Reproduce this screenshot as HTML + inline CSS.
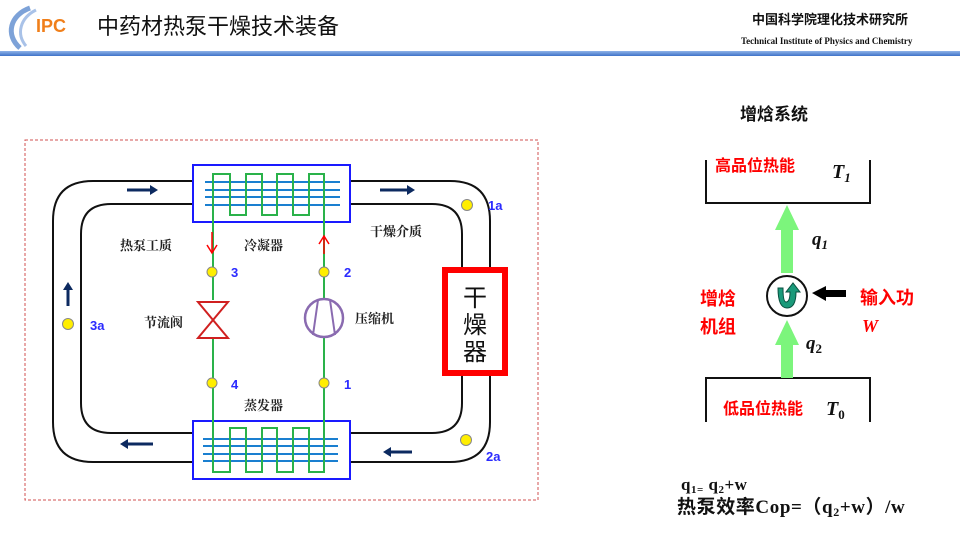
<!DOCTYPE html>
<html><head><meta charset="utf-8"><style>
body{margin:0;width:960px;height:540px;background:#fff;overflow:hidden;font-family:"Liberation Sans","Noto Sans CJK SC",sans-serif}
</style></head><body>
<svg width="960" height="540" viewBox="0 0 960 540" xmlns="http://www.w3.org/2000/svg">
<defs><linearGradient id="lg" x1="0" x2="0" y1="0" y2="1"><stop offset="0" stop-color="#8fb3e8"/><stop offset="1" stop-color="#3f73c8"/></linearGradient></defs>
<path d="M30,8 C10,15 5,35 20,48" stroke="#7da2d8" stroke-width="5" fill="none"/>
<path d="M36,10 C20,18 16,34 26,46" stroke="#a9c2e8" stroke-width="3" fill="none"/>
<text x="36" y="32" font-size="18" font-weight="bold" fill="#f07f1a" font-family="Liberation Sans,sans-serif">IPC</text>
<text x="97" y="34" font-size="22" fill="#111" font-family="Noto Sans CJK SC,sans-serif">中药材热泵干燥技术装备</text>
<text x="752" y="24" font-size="13" font-weight="bold" fill="#111" font-family="Noto Sans CJK SC,sans-serif">中国科学院理化技术研究所</text>
<text x="741" y="44" font-size="9" font-weight="bold" fill="#111" font-family="Liberation Serif,serif">Technical Institute of Physics and Chemistry</text>
<rect x="0" y="51" width="960" height="5" fill="url(#lg)"/>

<rect x="25" y="140" width="513" height="360" fill="none" stroke="#d05050" stroke-width="1" stroke-dasharray="3,2"/>

<g fill="none" stroke="#111" stroke-width="2">
<path d="M193,181 L93,181 Q53,181 53,221 L53,422 Q53,462 93,462 L193,462"/>
<path d="M193,204 L111,204 Q81,204 81,234 L81,403 Q81,433 111,433 L193,433"/>
<path d="M350,181 L450,181 Q490,181 490,221 L490,268"/>
<path d="M350,204 L432,204 Q462,204 462,234 L462,268"/>
<path d="M490,375 L490,422 Q490,462 450,462 L350,462"/>
<path d="M462,375 L462,403 Q462,433 432,433 L350,433"/>
</g>
<rect x="445" y="270" width="60" height="103" fill="#fff" stroke="#f00" stroke-width="6"/>
<text x="475" y="306" font-size="24" text-anchor="middle" font-family="Noto Sans CJK SC,sans-serif" fill="#111">干</text>
<text x="475" y="333" font-size="24" text-anchor="middle" font-family="Noto Sans CJK SC,sans-serif" fill="#111">燥</text>
<text x="475" y="360" font-size="24" text-anchor="middle" font-family="Noto Sans CJK SC,sans-serif" fill="#111">器</text>

<rect x="193" y="165" width="157" height="57" fill="#fff" stroke="#1a1aff" stroke-width="2"/>
<g stroke="#1a7fd0" stroke-width="2"><line x1="205" y1="182" x2="340" y2="182"/><line x1="205" y1="190" x2="340" y2="190"/><line x1="205" y1="197" x2="340" y2="197"/><line x1="205" y1="205" x2="340" y2="205"/></g>
<path d="M213,300 L213,174 L230,174 L230,215 L246,215 L246,174 L262,174 L262,215 L277,215 L277,174 L293,174 L293,215 L309,215 L309,174 L324,174 L324,300" fill="none" stroke="#2ab24a" stroke-width="2"/>
<rect x="193" y="421" width="157" height="58" fill="#fff" stroke="#1a1aff" stroke-width="2"/>
<g stroke="#1a7fd0" stroke-width="2"><line x1="203" y1="439" x2="338" y2="439"/><line x1="203" y1="446" x2="338" y2="446"/><line x1="203" y1="454" x2="338" y2="454"/><line x1="203" y1="461" x2="338" y2="461"/></g>
<path d="M213,330 L213,472 L230,472 L230,428 L246,428 L246,472 L262,472 L262,428 L277,428 L277,472 L293,472 L293,428 L309,428 L309,472 L324,472 L324,330" fill="none" stroke="#2ab24a" stroke-width="2"/>

<path d="M198,302 L228,302 L198,338 L228,338 Z" fill="#fff" stroke="#d02020" stroke-width="2"/>
<circle cx="324" cy="318" r="19" fill="#fff" stroke="#8a6bb0" stroke-width="2.5"/>
<path d="M318,300 L313,335 M330,300 L335,335" stroke="#8a6bb0" stroke-width="2"/>

<g stroke="#f00" stroke-width="1.5" fill="none"><line x1="212" y1="232" x2="212" y2="252"/><path d="M207,245 L212,253 L217,245"/><line x1="324" y1="236" x2="324" y2="254"/><path d="M319,244 L324,236 L329,244"/></g>

<g fill="#ffee00" stroke="#888" stroke-width="1">
<circle cx="212" cy="272" r="5"/><circle cx="324" cy="272" r="5"/><circle cx="212" cy="383" r="5"/><circle cx="324" cy="383" r="5"/>
<circle cx="467" cy="205" r="5.5"/><circle cx="68" cy="324" r="5.5"/><circle cx="466" cy="440" r="5.5"/></g>
<g fill="#2a2aff" font-size="13" font-weight="bold">
<text x="231" y="277">3</text><text x="344" y="277">2</text><text x="231" y="389">4</text><text x="344" y="389">1</text>
<text x="488" y="210">1a</text><text x="90" y="330">3a</text><text x="486" y="461">2a</text></g>

<g fill="#0c2a60">
<path d="M127,188.5 L150,188.5 L150,185 L158,190 L150,195 L150,191.5 L127,191.5Z"/>
<path d="M380,188.5 L407,188.5 L407,185 L415,190 L407,195 L407,191.5 L380,191.5Z"/>
<path d="M66.5,306 L66.5,290 L63,290 L68,282 L73,290 L69.5,290 L69.5,306Z"/>
<path d="M153,442.5 L128,442.5 L128,439 L120,444 L128,449 L128,445.5 L153,445.5Z"/>
<path d="M412,450.5 L391,450.5 L391,447 L383,452 L391,457 L391,453.5 L412,453.5Z"/>
</g>

<g font-size="13" font-weight="bold" fill="#222" font-family="Noto Serif CJK SC,serif">
<text x="120" y="250">热泵工质</text><text x="244" y="250">冷凝器</text><text x="370" y="236">干燥介质</text>
<text x="144" y="327">节流阀</text><text x="355" y="323">压缩机</text><text x="244" y="410">蒸发器</text></g>

<text x="740" y="120" font-size="17" font-weight="bold" fill="#111" font-family="Noto Sans CJK SC,sans-serif">增焓系统</text>
<path d="M706,160 L706,203 L870,203 L870,160" fill="none" stroke="#111" stroke-width="2"/>
<path d="M706,422 L706,378 L870,378 L870,422" fill="none" stroke="#111" stroke-width="2"/>
<g font-weight="bold" fill="#f00" font-family="Noto Sans CJK SC,sans-serif">
<text x="715" y="171" font-size="16">高品位热能</text>
<text x="723" y="414" font-size="16">低品位热能</text>
<text x="700" y="305" font-size="18">增焓</text><text x="700" y="333" font-size="18">机组</text>
<text x="860" y="304" font-size="18">输入功</text></g>
<text x="862" y="332" font-size="18" font-weight="bold" font-style="italic" fill="#f00" font-family="Liberation Serif,serif">W</text>
<g font-family="Liberation Serif,serif" font-weight="bold" font-style="italic" fill="#111">
<text x="832" y="178" font-size="20">T<tspan font-size="13" dy="4">1</tspan></text>
<text x="826" y="415" font-size="20">T<tspan font-size="13" dy="4" font-style="normal">0</tspan></text>
<text x="812" y="245" font-size="19">q<tspan font-size="13" dy="4">1</tspan></text>
<text x="806" y="349" font-size="19">q<tspan font-size="13" dy="4" font-style="normal">2</tspan></text></g>
<g fill="#7cf57c">
<path d="M781,273 L781,230 L775,230 L787,205 L799,230 L793,230 L793,273Z"/>
<path d="M781,378 L781,345 L775,345 L787,320 L799,345 L793,345 L793,378Z"/></g>
<circle cx="787" cy="296" r="20" fill="#fff" stroke="#111" stroke-width="2"/>
<path d="M778,288 Q778,308 787,308 Q796,308 796,292 L800,292 L793,283 L786,292 L790,292 Q790,302 786,302 Q783,302 783,288Z" fill="#1a9a7a" stroke="#0a5040" stroke-width="1"/>
<path d="M812,293 L826,286 L826,290 L846,290 L846,297 L826,297 L826,301Z" fill="#000"/>

<g font-family="Liberation Serif,serif" font-weight="bold" fill="#111">
<text x="681" y="490" font-size="17" letter-spacing="0.5">q<tspan font-size="11" dy="3">1=</tspan><tspan dy="-3"> q</tspan><tspan font-size="11" dy="3">2</tspan><tspan dy="-3">+w</tspan></text>
<text x="677" y="513" font-size="19" letter-spacing="0.6"><tspan font-family="Noto Sans CJK SC,sans-serif">热泵效率</tspan>Cop=<tspan font-family="Noto Sans CJK SC,sans-serif">（</tspan>q<tspan font-size="12" dy="3">2</tspan><tspan dy="-3">+w</tspan><tspan font-family="Noto Sans CJK SC,sans-serif">）</tspan>/w</text></g>
</svg>
</body></html>
